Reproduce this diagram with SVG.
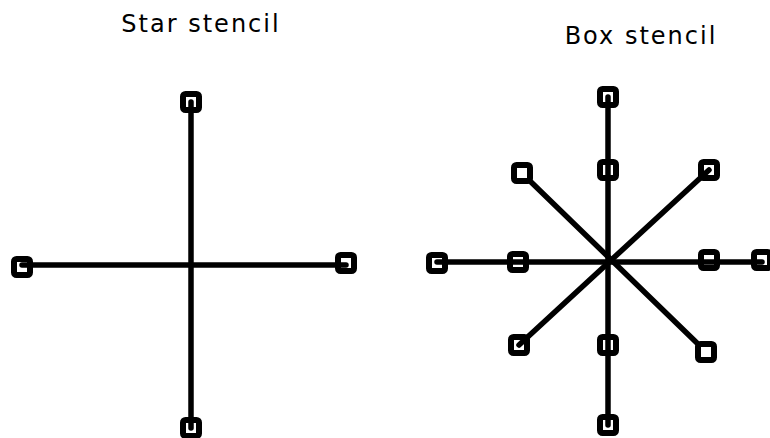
<svg xmlns="http://www.w3.org/2000/svg" width="770" height="438" viewBox="0 0 770 438">
<style>
.sq{fill:#fff;stroke:#000;stroke-width:6;}
.ln{stroke:#000;stroke-width:5.5;stroke-linecap:round;fill:none;}
.t{font-family:"DejaVu Sans",sans-serif;font-size:24px;letter-spacing:2px;fill:#000;text-anchor:middle;}
</style>
<defs>
<rect id="s" x="-8" y="-8" width="16" height="16" rx="2.5"/>
</defs>
<text class="t" x="201" y="32">Star stencil</text>
<text class="t" x="641" y="44">Box stencil</text>
<g id="star">
<g id="star-n"><use href="#s" class="sq" x="191" y="102"/></g>
<g id="star-s"><use href="#s" class="sq" x="191" y="428"/></g>
<g id="star-w"><use href="#s" class="sq" x="22" y="267"/></g>
<g id="star-e"><use href="#s" class="sq" x="346" y="263"/></g>
</g>
<g id="box">
<g id="box-n"><use href="#s" class="sq" x="608" y="97"/></g>
<g id="box-n2"><use href="#s" class="sq" x="608" y="170"/></g>
<g id="box-s"><use href="#s" class="sq" x="608" y="425"/></g>
<g id="box-s2"><use href="#s" class="sq" x="608" y="345"/></g>
<g id="box-w"><use href="#s" class="sq" x="437" y="263"/></g>
<g id="box-w2"><use href="#s" class="sq" x="518" y="262"/></g>
<g id="box-e2"><use href="#s" class="sq" x="709" y="260"/></g>
<g id="box-e"><use href="#s" class="sq" x="762" y="260"/></g>
<g id="box-nw"><use href="#s" class="sq" x="522" y="173"/></g>
<g id="box-ne"><use href="#s" class="sq" x="709" y="170"/></g>
<g id="box-sw"><use href="#s" class="sq" x="519" y="345"/></g>
<g id="box-se"><use href="#s" class="sq" x="706" y="352"/></g>
</g>
<g id="connectors">
<line class="ln" x1="191" y1="102" x2="191" y2="428"/>
<line class="ln" x1="22" y1="265" x2="346" y2="265"/>
<line class="ln" x1="608" y1="97" x2="608" y2="425"/>
<line class="ln" x1="437" y1="262" x2="762" y2="262"/>
<line class="ln" x1="530" y1="181" x2="698" y2="344"/>
<line class="ln" x1="709" y1="170" x2="519" y2="345"/>
</g>
</svg>
